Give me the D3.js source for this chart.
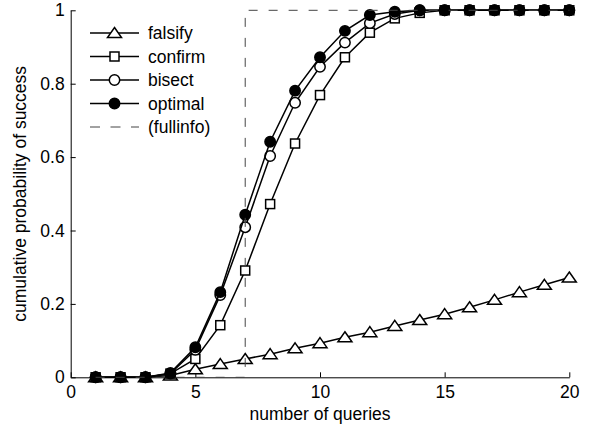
<!DOCTYPE html>
<html>
<head>
<meta charset="utf-8">
<script src="https://cdn.jsdelivr.net/npm/d3@7/dist/d3.min.js"></script>
<style>
  body { margin: 0; background: #fff; }
  svg text { font-family: Arial, "Liberation Sans", sans-serif; font-size: 17.5px; fill: #000; }
</style>
</head>
<body>
<div id="chart"></div>
<script>
// number of queries
const queries = d3.range(1, 21);

// cumulative probability of success, one value per query count
const falsify = [0, 0, 0, 0.005, 0.022, 0.036, 0.05, 0.063, 0.079, 0.093, 0.109, 0.123, 0.14, 0.156, 0.172, 0.191, 0.211, 0.232, 0.252, 0.272];
const confirm = [0, 0, 0, 0.01, 0.05, 0.142, 0.291, 0.472, 0.637, 0.769, 0.872, 0.939, 0.978, 0.993, 1, 1, 1, 1, 1, 1];
const bisect  = [0, 0, 0, 0.01, 0.075, 0.224, 0.409, 0.603, 0.748, 0.846, 0.912, 0.965, 0.99, 1, 1, 1, 1, 1, 1, 1];
const optimal = [0, 0, 0, 0.012, 0.082, 0.232, 0.443, 0.642, 0.781, 0.872, 0.944, 0.987, 0.996, 1, 1, 1, 1, 1, 1, 1];

// full information: step at 7 queries
const fullinfoX = [1, 7, 7, 20];
const fullinfoY = [0, 0, 1, 1];

const xTicks = [0, 5, 10, 15, 20];
const yTicks = [0, 0.2, 0.4, 0.6, 0.8, 1];

const seriesNames = ['falsify', 'confirm', 'bisect', 'optimal'];
const seriesValues = [falsify, confirm, bisect, optimal];

const width = 591, height = 427;
const margin = {top: 10.3, right: 21.7, bottom: 49.7, left: 70.7};

const svg = d3.select('#chart').append('svg')
    .attr('width', width)
    .attr('height', height);

const xScale = d3.scaleLinear().domain([0, 20]).range([margin.left, width - margin.right]);
const yScale = d3.scaleLinear().domain([0, 1]).range([height - margin.bottom, margin.top]);

// axes, ticks pointing inward
const gx = svg.append('g')
    .attr('transform', 'translate(0,' + yScale(0) + ')')
    .call(d3.axisBottom(xScale)
        .tickValues(xTicks)
        .tickFormat(d3.format('~g'))
        .tickSize(-5)
        .tickSizeOuter(0)
        .tickPadding(10));

const gy = svg.append('g')
    .attr('transform', 'translate(' + xScale(0) + ',0)')
    .call(d3.axisLeft(yScale)
        .tickValues(yTicks)
        .tickFormat(d3.format('~g'))
        .tickSize(-5)
        .tickSizeOuter(0)
        .tickPadding(6));

svg.selectAll('.domain').attr('stroke', '#000').attr('stroke-width', 1);
svg.selectAll('.tick line').attr('stroke', '#000');
svg.selectAll('.tick text')
    .style('font-size', '17.5px')
    .attr('font-family', null);
gx.selectAll('.tick text').attr('dy', '0.62em');

svg.append('text')
    .attr('x', xScale(10))
    .attr('y', 420)
    .attr('text-anchor', 'middle')
    .text('number of queries');

svg.append('text')
    .attr('transform', 'translate(26,' + yScale(0.5) + ') rotate(-90)')
    .attr('text-anchor', 'middle')
    .text('cumulative probability of success');

// marker drawing
function drawMarker(g, name, x, y) {
    if (name === 'falsify') {
        g.append('path')
            .attr('d', 'M' + x + ',' + (y - 5.5) + 'L' + (x + 7) + ',' + (y + 4.5) + 'L' + (x - 7) + ',' + (y + 4.5) + 'Z')
            .attr('fill', '#fff').attr('stroke', '#000').attr('stroke-width', 1.5);
    } else if (name === 'confirm') {
        g.append('rect')
            .attr('x', x - 4.5).attr('y', y - 4.5)
            .attr('width', 9).attr('height', 9)
            .attr('fill', '#fff').attr('stroke', '#000').attr('stroke-width', 1.5);
    } else {
        g.append('circle')
            .attr('cx', x).attr('cy', y).attr('r', 5.2)
            .attr('fill', name === 'optimal' ? '#000' : '#fff')
            .attr('stroke', '#000').attr('stroke-width', 1.5);
    }
}

const line = d3.line()
    .x(d => xScale(d[0]))
    .y(d => yScale(d[1]));

seriesNames.forEach((name, i) => {
    const pts = queries.map((q, j) => [q, seriesValues[i][j]]);
    const g = svg.append('g').attr('class', 'series-' + name);
    g.append('path')
        .attr('d', line(pts))
        .attr('fill', 'none')
        .attr('stroke', '#000')
        .attr('stroke-width', 1.5);
    pts.forEach(p => drawMarker(g, name, xScale(p[0]), yScale(p[1])));
});

svg.append('path')
    .attr('d', line(fullinfoX.map((x, j) => [x, fullinfoY[j]])))
    .attr('fill', 'none')
    .attr('stroke', '#444')
    .attr('stroke-width', 1)
    .attr('stroke-dasharray', '9,11');

// legend
const legendNames = seriesNames.concat(['(fullinfo)']);
const legend = svg.append('g');
legendNames.forEach((name, i) => {
    const y = 33 + i * 23.5;
    const ln = legend.append('line')
        .attr('x1', 90).attr('x2', 139)
        .attr('y1', y).attr('y2', y)
        .attr('stroke', '#000');
    if (name === '(fullinfo)') {
        ln.attr('stroke-width', 1).attr('stroke', '#444').attr('stroke-dasharray', '10,10.5');
    } else {
        ln.attr('stroke-width', 1.5);
        drawMarker(legend, name, 114.5, y);
    }
    legend.append('text')
        .attr('x', 148)
        .attr('y', y)
        .attr('dy', '0.35em')
        .text(name);
});
</script>
</body>
</html>
